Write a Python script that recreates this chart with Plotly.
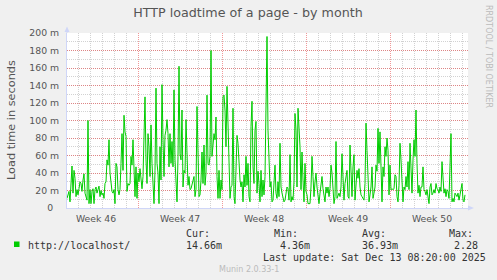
import pandas as pd
import plotly.graph_objects as go

# ---- data (milliseconds-scale "m" units, one sample every 2 hours) ----
seg_a = [11,16,19,7,24,48,17,43,34,13,21,15,22,30,28,19,32,39,17,13,
         9,100,5,21,5,19,22,5,21,24,17,21,25,13,20,15,17,11,28,30,
         55,49,78,40,28,19,17,21,5,51,47,21,15,21,51,85,43,106,87,82,
         19,28,26,28,59,49,78]
seg_b = [43,13,47,11,40,30,45,30,22,36,97,127,55,28,85,70,36,95,51,17,
         5,43,137,51,40,5,70,32,141,78,36,83,89,101,85,47,85,51,76,47,
         135,55,24,7,59,162,62,55,112,24,43,40,101,43,26,36,21,22,28,32,
         36,13,21,116,43,13,15]
seg_c = [32,64,28,72,26,40,129,51,49,59,180,59,74,85,78,104,36,11,43,11,
         32,21,127,129,112,70,139,89,28,11,24,26,114,13,5,47,83,74,47,32,
         24,30,7,38,24,59,26,51,13,7,93,122,47,28,89,99,17,42,28,7,
         43,13,32,15,36,127,196]
seg_d = [89,43,24,30,7,9,24,49,17,11,30,13,74,24,17,11,7,9,17,24,
         22,9,61,7,13,9,30,108,89,24,114,93,70,21,64,32,7,51,19,15,
         5,5,5,24,59,36,13,30,40,24,9,5,17,24,36,22,13,7,24,17,
         24,13,22,49,40,19,5]
seg_e = [13,76,11,15,17,13,24,62,32,9,28,34,43,13,11,72,28,13,47,61,
         9,24,43,34,45,24,15,13,11,9,28,97,66,21,7,15,24,47,11,17,
         24,49,42,91,51,87,40,7,47,36,70,59,80,66,15,49,21,22,21,22,
         38,36,13,7,26,74,55]
seg_f = [24,7,24,21,36,24,53,21,74,40,17,55,78,59,112,51,17,26,13,24,
         24,47,21,19,15,21,11,5,24,28,15,17,21,17,28,22,21,17,24,19,
         53,36,17,22,13,21,19,11,40,85,7,11,7,17,15,13,17,9,15,24,
         28,9,7,15]
values = seg_a + seg_b + seg_c + seg_d + seg_e + seg_f

last_sample = "2025-12-13 06:00"
sample_step = "2h"
week_start_first = "2025-11-09"   # grid week boundaries
n_weeks = 5

y_ticks = [0, 20, 40, 60, 80, 100, 120, 140, 160, 180, 200]
y_ticktext = ["0\u00a0\u00a0", "20 m", "40 m", "60 m", "80 m", "100 m", "120 m",
              "140 m", "160 m", "180 m", "200 m"]

title = "HTTP loadtime of a page - by month"
y_title = "Load time in seconds"
series_name = "http://localhost/"
stat_heads = ["Cur:", "Min:", "Avg:", "Max:"]
stat_vals = ["14.66m", "4.36m", "36.93m", "2.28"]
last_update = "Last update: Sat Dec 13 08:20:00 2025"
footer = "Munin 2.0.33-1"
watermark = "RRDTOOL / TOBI OETIKER"

# ---- derived ----
times = pd.date_range(end=pd.Timestamp(last_sample), periods=len(values), freq=sample_step)
x_range = [times[0], times[-1] + pd.Timedelta(hours=6)]
week_starts = pd.date_range(week_start_first, periods=n_weeks, freq="7D")
week_centers = week_starts + pd.Timedelta(hours=84)
week_text = [f"Week {d.isocalendar().week}" for d in week_centers]

# pixel geometry of plot area
L, R, T, B = 67, 468, 33, 208
W, H = 497, 280
def px(x):
    return (x - L) / (R - L)
def py(y):
    return (B - y) / (B - T)

GREEN = "#00CC00"
AXIS = "#CFD6F8"
MAJ = "rgba(230,70,70,0.55)"
MIN = "rgba(143,143,143,0.40)"
TXT = "#555555"
LEG = "#333333"
FAINT = "#BBBBBB"
SANS = "DejaVu Sans"
MONO = "DejaVu Sans Mono"

fig = go.Figure()
fig.add_trace(go.Scatter(x=times, y=values, mode="lines", xaxis="x", yaxis="y",
                         line=dict(color="rgba(0,0,0,0)", width=1), hoverinfo="skip",
                         showlegend=False))
fig.add_trace(go.Scatter(x=times, y=values, mode="lines", xaxis="x2", yaxis="y",
                         line=dict(color=GREEN, width=1), name=series_name,
                         showlegend=False))

shapes = [
    # y axis arrow
    dict(type="path", xref="paper", yref="paper",
         path=f"M {px(64.5)} {py(32)} L {px(69.5)} {py(32)} L {px(67)} {py(26.5)} Z",
         fillcolor=AXIS, line=dict(width=0)),
    dict(type="line", xref="paper", yref="paper", x0=px(67), x1=px(67), y0=1, y1=py(32),
         line=dict(color=AXIS, width=1)),
    # x axis arrow
    dict(type="path", xref="paper", yref="paper",
         path=f"M {px(468)} {py(205.5)} L {px(468)} {py(210.5)} L {px(474)} {py(208)} Z",
         fillcolor=AXIS, line=dict(width=0)),
    # legend colour box
    dict(type="rect", xref="paper", yref="paper",
         x0=px(14), x1=px(19.5), y0=py(241.5), y1=py(247),
         fillcolor=GREEN, line=dict(width=0)),
]

ann = []
def text(t, x, y, size, color, family, xanchor="left", angle=0):
    ann.append(dict(text=t, x=px(x), y=py(y), xref="paper", yref="paper",
                    xanchor=xanchor, yanchor="middle", showarrow=False,
                    textangle=angle, borderpad=0,
                    font=dict(size=size, color=color, family=family)))

text(y_title, 11, 120, 11.3, TXT, SANS, xanchor="center", angle=-90)
text(watermark, 488.5, 56.5, 8, FAINT, SANS, xanchor="center", angle=90)
for h, xh in zip(stat_heads, [185, 273, 361, 448]):
    text(h, xh, 233.7, 10, LEG, MONO)
text(series_name, 27, 245.3, 10, LEG, MONO)
for v, xv in zip(stat_vals, [185, 279, 361, 453]):
    text(v, xv, 245.3, 10, LEG, MONO)
text(last_update, 262, 257.5, 10, LEG, MONO)
text(footer, 248.5, 269, 8, FAINT, SANS, xanchor="center")

fig.update_layout(
    width=W, height=H,
    margin=dict(l=L, r=W - R, t=T, b=H - B, pad=0),
    paper_bgcolor="#F0F0F0", plot_bgcolor="#FFFFFF",
    title=dict(text=title, x=248 / W, xref="container", xanchor="center",
               y=1 - 13 / H, yref="container", yanchor="middle",
               font=dict(size=12.7, color=TXT, family=SANS)),
    xaxis=dict(type="date", range=x_range, tickmode="array", tickvals=week_centers,
               ticktext=week_text, showgrid=False, zeroline=False, ticks="",
               showline=True, linecolor=AXIS, linewidth=1, ticklabelstandoff=2,
               tickfont=dict(size=9.3, color=TXT, family=SANS)),
    xaxis2=dict(type="date", range=x_range, overlaying="x", anchor="y", side="bottom",
                tick0=week_starts[0], dtick=7 * 86400000, showticklabels=False, ticks="",
                showgrid=True, gridcolor=MAJ, griddash="1px,1px", gridwidth=1,
                zeroline=False, showline=False,
                minor=dict(tick0=week_starts[0], dtick=86400000, showgrid=True,
                           gridcolor=MIN, griddash="1px,1px", gridwidth=1, ticks="")),
    yaxis=dict(range=[0, 200], tickmode="array", tickvals=y_ticks, ticktext=y_ticktext,
               showgrid=True, gridcolor=MAJ, griddash="1px,1px", gridwidth=1,
               minor=dict(dtick=10, showgrid=True, gridcolor=MIN, griddash="1px,1px",
                          gridwidth=1, ticks=""),
               zeroline=False, ticks="", showline=True, linecolor=AXIS, linewidth=1,
               ticklabelstandoff=5,
               tickfont=dict(size=9.3, color=TXT, family=SANS)),
    shapes=shapes, annotations=ann, showlegend=False,
)

fig.write_html("out.html")
